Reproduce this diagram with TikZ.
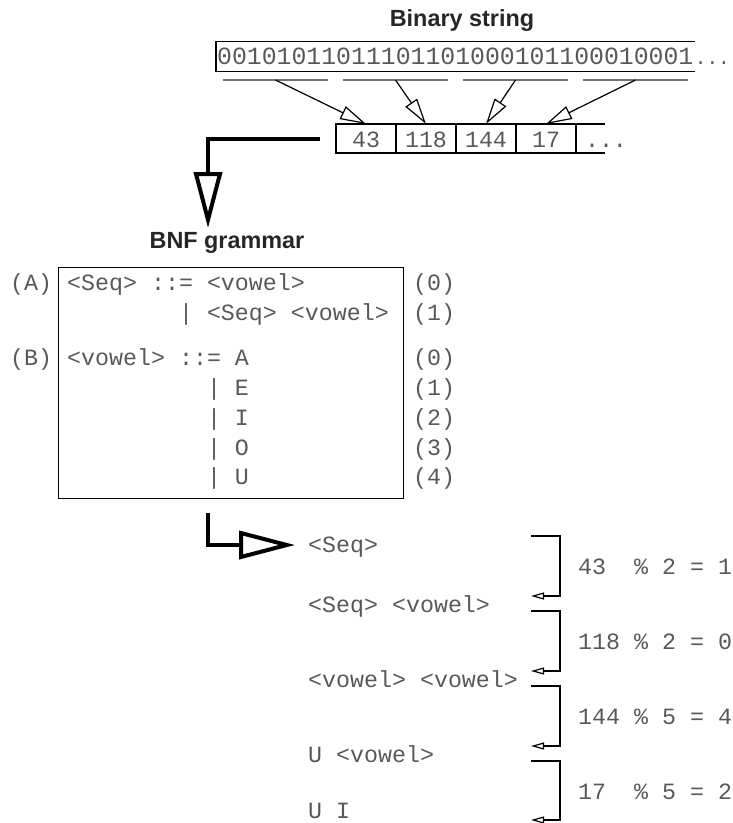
\documentclass[tikz,border=0pt]{standalone}
\usepackage{fontspec}
\setmainfont{Liberation Sans}
\setsansfont{Liberation Sans}
\setmonofont{Liberation Mono}
\usetikzlibrary{arrows.meta,positioning}

\newcommand{\codesize}{\fontsize{23.3}{28}\selectfont}
\newcommand{\bitsize}{\fontsize{24.8}{28}\selectfont}
\newcommand{\dotsize}{\fontsize{19.5}{24}\selectfont}
\newcommand{\titlesize}{\fontsize{23.4}{28}\selectfont}

\tikzstyle{titleNode} = [inner sep=0pt, font=\titlesize\sffamily\bfseries, text=black!85]
\tikzstyle{codeNode} = [anchor=west, inner sep=0pt, text height=15pt, text depth=0pt, font=\codesize\ttfamily, text=black!65]
\tikzstyle{cellNode} = [rectangle, draw=black, line width=1.2pt, outer sep=0pt, inner sep=0pt, minimum width=60pt, minimum height=29pt, text height=17pt, text depth=0pt, font=\codesize\ttfamily, text=black!65]
\tikzstyle{thinline} = [line width=1.2pt]
\tikzstyle{underline} = [line width=1.5pt, draw=black!55]
\tikzstyle{arrow} = [line width=1.2pt, -{Triangle[open, length=26pt, width=14pt]}]
\tikzstyle{modarrow} = [line width=1.2pt, -{Triangle[open, length=13pt, width=7pt]}]
\tikzstyle{bigarrow} = [line width=4pt, -{Triangle[open, length=56pt, width=28pt]}]

\begin{document}
\begin{tikzpicture}[x=1pt, y=-1pt]
    \useasboundingbox (0,0) rectangle (733,823);

    % the bit string and its bytes
    \node (bintitle)[titleNode] at (462,20) {Binary string};
    \node (bits)[anchor=west, inner xsep=1pt, inner ysep=0pt, minimum height=29pt, text height=16pt, text depth=0pt, font=\bitsize\ttfamily, text=black!65] at (216,56.5) {00101011011101101000101100010001};
    \node (bitsdots)[anchor=base west, inner sep=0pt, font=\dotsize\ttfamily, text=black!65] at (bits.base east) {...};
    \draw [thinline] (bits.north east) -- (bits.north west) -- (bits.south west) -- (bits.south east);

    \draw [underline] (223,80) -- coordinate (u1) (328,80);
    \draw [underline] (343,80) -- coordinate (u2) (448,80);
    \draw [underline] (463,80) -- coordinate (u3) (568,80);
    \draw [underline] (583,80) -- coordinate (u4) (688,80);

    \node (c43)[cellNode] at (366,138.5) {43};
    \node (c118)[cellNode, right=0pt of c43] {118};
    \node (c144)[cellNode, right=0pt of c118] {144};
    \node (c17)[cellNode, right=0pt of c144] {17};
    \node (cdots)[cellNode, draw=none, right=0pt of c17] {...};
    \draw [thinline] (cdots.north west) -- ++(29,0);
    \draw [thinline] (cdots.south west) -- ++(29,0);

    \draw [arrow] (u1) -- (c43.north);
    \draw [arrow] (u2) -- (c118.north);
    \draw [arrow] (u3) -- (c144.north);
    \draw [arrow] (u4) -- (c17.north);

    \coordinate (bytesout) at (320,139);
    \coordinate (grammarin) at (208,228);
    \draw [bigarrow] (bytesout) -| (grammarin);

    % grammar
    \node (bnftitle)[titleNode] at (227,243) {BNF grammar};
    \node (grammar)[rectangle, draw, thinline, minimum width=345pt, minimum height=231pt, anchor=north west] at (58,267) {};

    \node (labA)[codeNode] at (10,283) {(A)};
    \node (gA0)[codeNode] at (67,283) {<Seq> ::= <vowel>};
    \node (gA1)[codeNode] at (67,313) {~~~~~~~~| <Seq> <vowel>};
    \node (labB)[codeNode] at (10,358) {(B)};
    \node (gB0)[codeNode] at (67,358) {<vowel> ::= A};
    \node (gB1)[codeNode] at (67,388) {~~~~~~~~~~| E};
    \node (gB2)[codeNode] at (67,418) {~~~~~~~~~~| I};
    \node (gB3)[codeNode] at (67,448) {~~~~~~~~~~| O};
    \node (gB4)[codeNode] at (67,477) {~~~~~~~~~~| U};

    \node (nA0)[codeNode] at (413,283) {(0)};
    \node (nA1)[codeNode] at (413,313) {(1)};
    \node (nB0)[codeNode] at (413,358) {(0)};
    \node (nB1)[codeNode] at (413,388) {(1)};
    \node (nB2)[codeNode] at (413,418) {(2)};
    \node (nB3)[codeNode] at (413,448) {(3)};
    \node (nB4)[codeNode] at (413,477) {(4)};

    % derivation
    \node (d0)[codeNode] at (308,545) {<Seq>};
    \node (d1)[codeNode] at (308,605) {<Seq> <vowel>};
    \node (d2)[codeNode] at (308,680) {<vowel> <vowel>};
    \node (d3)[codeNode] at (308,755) {U <vowel>};
    \node (d4)[codeNode] at (308,811) {U I};

    \coordinate (grammarout) at (208,513);
    \draw [bigarrow, shorten >=13pt] (grammarout) |- (d0.west);

    \coordinate (r1a) at (531,536);
    \coordinate (r1b) at (531,596);
    \coordinate (r2a) at (531,611);
    \coordinate (r2b) at (531,671);
    \coordinate (r3a) at (531,686);
    \coordinate (r3b) at (531,746);
    \coordinate (r4a) at (531,761);
    \coordinate (r4b) at (531,820);
    \draw [modarrow] (r1a) -- ++(29,0) |- (r1b);
    \draw [modarrow] (r2a) -- ++(29,0) |- (r2b);
    \draw [modarrow] (r3a) -- ++(29,0) |- (r3b);
    \draw [modarrow] (r4a) -- ++(29,0) |- (r4b);

    \node (m1)[codeNode] at (578,567) {43~~\% 2 = 1};
    \node (m2)[codeNode] at (578,642) {118 \% 2 = 0};
    \node (m3)[codeNode] at (578,717) {144 \% 5 = 4};
    \node (m4)[codeNode] at (578,792) {17~~\% 5 = 2};

\end{tikzpicture}
\end{document}
